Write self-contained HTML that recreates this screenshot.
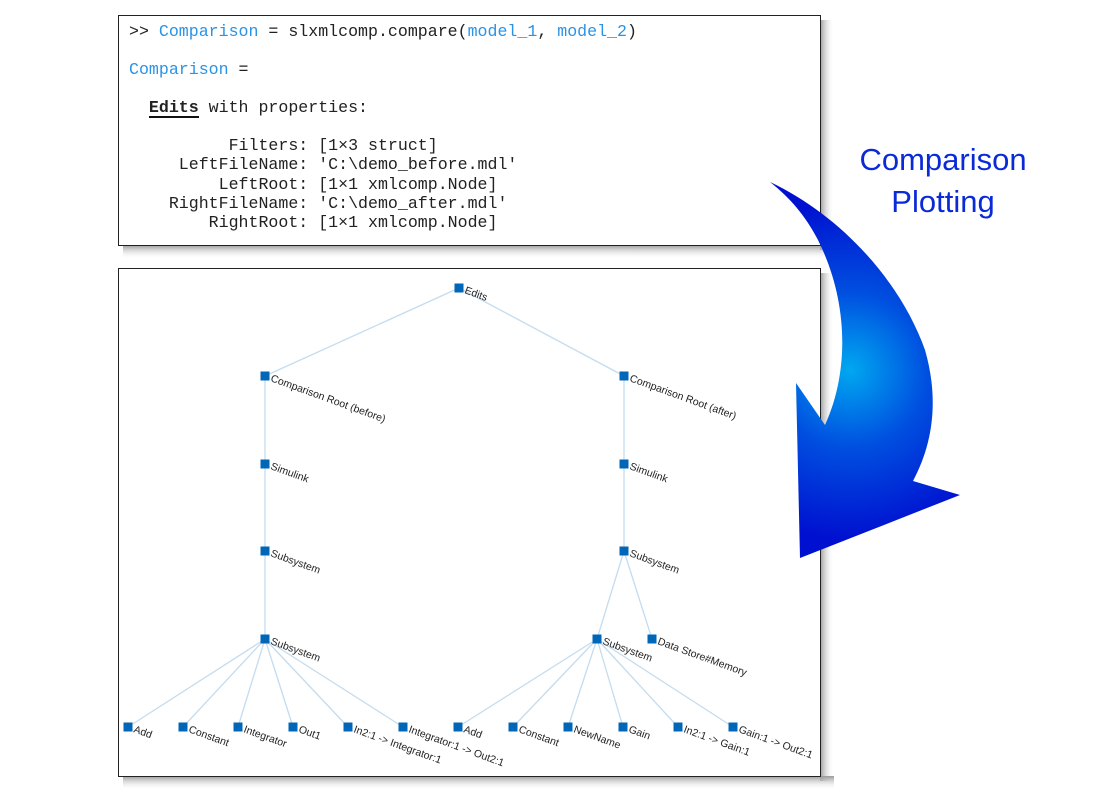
<!DOCTYPE html>
<html><head><meta charset="utf-8"><style>
html,body{margin:0;padding:0;background:#fff;}
svg{display:block}
.m{font-family:"Liberation Mono",monospace;font-size:16.6px;fill:#222;white-space:pre}
.b{fill:#2a93e6}
.l{font-family:"Liberation Sans",sans-serif;font-size:10.5px;fill:#222}
</style></head><body>
<svg width="1100" height="796" viewBox="0 0 1100 796" xmlns="http://www.w3.org/2000/svg">
<defs>
<linearGradient id="sh" x1="0" x2="1"><stop offset="0" stop-color="#999"/><stop offset="1" stop-color="#fff" stop-opacity="0"/></linearGradient>
<linearGradient id="shv" x1="0" y1="0" x2="0" y2="1"><stop offset="0" stop-color="#999"/><stop offset="1" stop-color="#fff" stop-opacity="0"/></linearGradient>
<radialGradient id="ag" cx="850" cy="370" r="170" gradientUnits="userSpaceOnUse"><stop offset="0" stop-color="#00a8f0"/><stop offset="0.45" stop-color="#0050e0"/><stop offset="1" stop-color="#0010d0"/></radialGradient>
</defs>
<rect x="820" y="20" width="14" height="230" fill="url(#sh)"/>
<rect x="123" y="245" width="711" height="14" fill="url(#shv)"/>
<rect x="820" y="273" width="14" height="508" fill="url(#sh)"/>
<rect x="123" y="776" width="711" height="14" fill="url(#shv)"/>
<rect x="118.5" y="15.5" width="702" height="230" fill="#fff" stroke="#222"/>
<text class="m" x="129" y="36">&gt;&gt; <tspan class="b">Comparison</tspan> = slxmlcomp.compare(<tspan class="b">model_1</tspan>, <tspan class="b">model_2</tspan>)</text>
<text class="m b" x="129" y="74">Comparison <tspan fill="#222">=</tspan></text>
<text class="m" x="129" y="112">  <tspan font-weight="bold">Edits</tspan> with properties:</text>
<line x1="149" y1="117" x2="199" y2="117" stroke="#111" stroke-width="2"/>
<text class="m" x="129" y="150">          Filters: [1×3 struct]</text>
<text class="m" x="129" y="169">     LeftFileName: 'C:\demo_before.mdl'</text>
<text class="m" x="129" y="189">         LeftRoot: [1×1 xmlcomp.Node]</text>
<text class="m" x="129" y="208">    RightFileName: 'C:\demo_after.mdl'</text>
<text class="m" x="129" y="227">        RightRoot: [1×1 xmlcomp.Node]</text>
<rect x="118.5" y="268.5" width="702" height="508" fill="#fff" stroke="#222"/>
<g stroke="#c4dcef" stroke-width="1.3" fill="none">
<line x1="459" y1="288" x2="265" y2="376"/><line x1="459" y1="288" x2="624" y2="376"/>
<line x1="265" y1="376" x2="265" y2="639"/>
<line x1="624" y1="376" x2="624" y2="551"/>
<line x1="624" y1="551" x2="597" y2="639"/><line x1="624" y1="551" x2="652" y2="639"/>
<line x1="265" y1="639" x2="128" y2="727"/><line x1="265" y1="639" x2="183" y2="727"/><line x1="265" y1="639" x2="238" y2="727"/><line x1="265" y1="639" x2="293" y2="727"/><line x1="265" y1="639" x2="348" y2="727"/><line x1="265" y1="639" x2="403" y2="727"/>
<line x1="597" y1="639" x2="458" y2="727"/><line x1="597" y1="639" x2="513" y2="727"/><line x1="597" y1="639" x2="568" y2="727"/><line x1="597" y1="639" x2="623" y2="727"/><line x1="597" y1="639" x2="678" y2="727"/><line x1="597" y1="639" x2="733" y2="727"/>
</g>
<g fill="#0066b8">
<rect x="454.5" y="283.5" width="9" height="9"/>
<rect x="260.5" y="371.5" width="9" height="9"/><rect x="619.5" y="371.5" width="9" height="9"/>
<rect x="260.5" y="459.5" width="9" height="9"/><rect x="619.5" y="459.5" width="9" height="9"/>
<rect x="260.5" y="546.5" width="9" height="9"/><rect x="619.5" y="546.5" width="9" height="9"/>
<rect x="260.5" y="634.5" width="9" height="9"/><rect x="592.5" y="634.5" width="9" height="9"/><rect x="647.5" y="634.5" width="9" height="9"/>
<rect x="123.5" y="722.5" width="9" height="9"/><rect x="178.5" y="722.5" width="9" height="9"/><rect x="233.5" y="722.5" width="9" height="9"/><rect x="288.5" y="722.5" width="9" height="9"/><rect x="343.5" y="722.5" width="9" height="9"/><rect x="398.5" y="722.5" width="9" height="9"/>
<rect x="453.5" y="722.5" width="9" height="9"/><rect x="508.5" y="722.5" width="9" height="9"/><rect x="563.5" y="722.5" width="9" height="9"/><rect x="618.5" y="722.5" width="9" height="9"/><rect x="673.5" y="722.5" width="9" height="9"/><rect x="728.5" y="722.5" width="9" height="9"/>
</g>
<g class="l">
<text transform="translate(464,293) rotate(20)">Edits</text>
<text transform="translate(270,381) rotate(20)">Comparison Root (before)</text>
<text transform="translate(629,381) rotate(20)">Comparison Root (after)</text>
<text transform="translate(270,469) rotate(20)">Simulink</text>
<text transform="translate(629,469) rotate(20)">Simulink</text>
<text transform="translate(270,556) rotate(20)">Subsystem</text>
<text transform="translate(629,556) rotate(20)">Subsystem</text>
<text transform="translate(270,644) rotate(20)">Subsystem</text>
<text transform="translate(602,644) rotate(20)">Subsystem</text>
<text transform="translate(657,644) rotate(20)">Data Store#Memory</text>
<text transform="translate(133,732) rotate(20)">Add</text>
<text transform="translate(188,732) rotate(20)">Constant</text>
<text transform="translate(243,732) rotate(20)">Integrator</text>
<text transform="translate(298,732) rotate(20)">Out1</text>
<text transform="translate(353,732) rotate(20)">In2:1 -&gt; Integrator:1</text>
<text transform="translate(408,732) rotate(20)">Integrator:1 -&gt; Out2:1</text>
<text transform="translate(463,732) rotate(20)">Add</text>
<text transform="translate(518,732) rotate(20)">Constant</text>
<text transform="translate(573,732) rotate(20)">NewName</text>
<text transform="translate(628,732) rotate(20)">Gain</text>
<text transform="translate(683,732) rotate(20)">In2:1 -&gt; Gain:1</text>
<text transform="translate(738,732) rotate(20)">Gain:1 -&gt; Out2:1</text>
</g>
<path d="M770,182 C840,215 900,280 925,350 C938,395 935,440 913,481 L960,495 L800,558 L796,383 L825,425 C850,370 848,300 818,240 C805,215 790,198 770,182 Z" fill="url(#ag)"/>
<text x="943" y="170" text-anchor="middle" font-family="Liberation Sans,sans-serif" font-size="31" fill="#0a2ad8">Comparison</text>
<text x="943" y="212" text-anchor="middle" font-family="Liberation Sans,sans-serif" font-size="31" fill="#0a2ad8">Plotting</text>
</svg>
</body></html>
